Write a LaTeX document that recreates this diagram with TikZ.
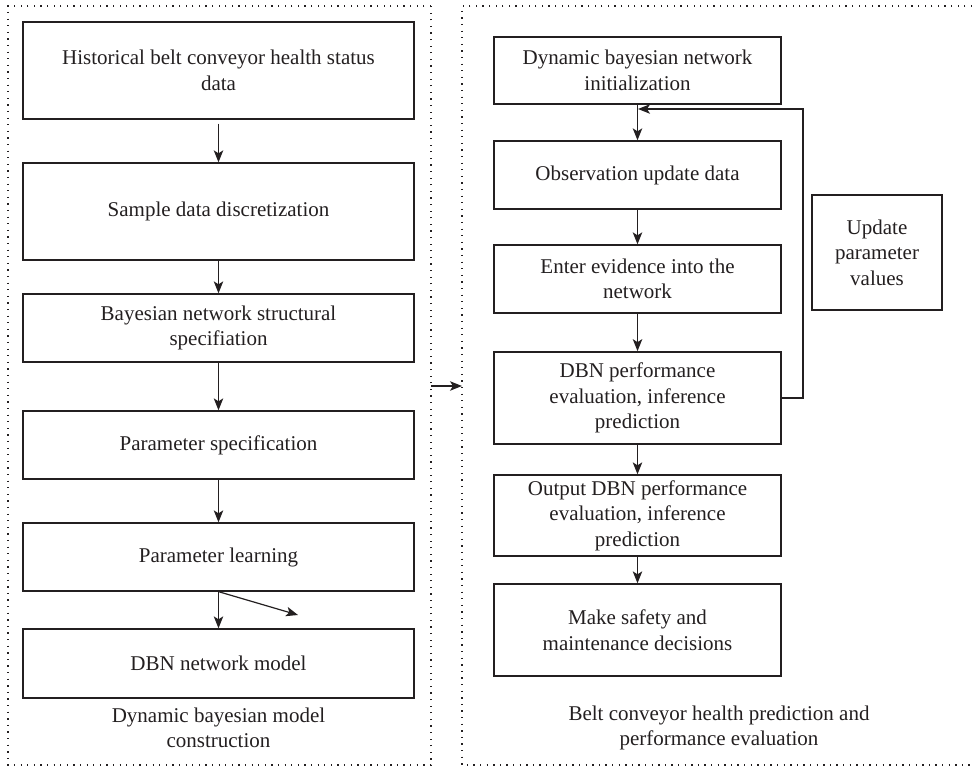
\documentclass[tikz,border=0pt]{standalone}
\usepackage{fontspec}
\setmainfont{Liberation Serif}
\usetikzlibrary{arrows.meta}
\definecolor{ink}{HTML}{231F20}
\tikzset{
  box/.style={draw=ink, line width=1.3pt, inner sep=0pt, align=center, text=ink,
    font=\fontsize{21}{25.5}\selectfont},
  lbl/.style={inner sep=0pt, align=center, text=ink, font=\fontsize{21}{25.5}\selectfont},
  arr/.style={draw=ink, line width=1.2pt, -{Stealth[length=12pt,width=9.5pt,inset=3pt]}},
  dots/.style={draw=ink, line width=1.3pt, dash pattern=on 1.3pt off 5.3pt}
}
\begin{document}
\begin{tikzpicture}[x=1pt,y=-1pt]
\useasboundingbox (0,0) rectangle (972,767);
% frames
\draw[dots] (431,6) -- (8,6) -- (8,765) -- (431,765) -- cycle;
\draw[dots] (972,6) -- (462,6) -- (462,765) -- (972,765);
% left column
\node[box, minimum width=391pt, minimum height=97pt] (l1) at (218.5,70.5) {Historical belt conveyor health status\\data};
\node[box, minimum width=391pt, minimum height=97pt] (l2) at (218.5,211.5) {Sample data discretization};
\node[box, minimum width=391pt, minimum height=68pt] (l3) at (218.5,328) {Bayesian network structural\\specifiation};
\node[box, minimum width=391pt, minimum height=68pt] (l4) at (218.5,445) {Parameter specification};
\node[box, minimum width=391pt, minimum height=68pt] (l5) at (218.5,557) {Parameter learning};
\node[box, minimum width=391pt, minimum height=69pt] (l6) at (218.5,663.5) {DBN network model};
\node[lbl] (lt) at (218.5,728) {Dynamic bayesian model\\construction};
\coordinate (l1b) at ([yshift=-4pt]l1.south);
\draw[arr] (l1b) -- (l2.north);
\draw[arr] (l2) -- (l3);
\draw[arr] (l3) -- (l4);
\draw[arr] (l4) -- (l5);
\draw[arr] (l5) -- (l6);
\coordinate (dg) at (298,615);
\draw[arr] (l5.south) -- (dg);
% between frames
\coordinate (ma) at (431,386);
\coordinate (mb) at (462,386);
\draw[arr] (ma) -- (mb);
% right column
\node[box, minimum width=287pt, minimum height=67pt] (r1) at (637.5,70.5) {Dynamic bayesian network\\initialization};
\node[box, minimum width=287pt, minimum height=68pt] (r2) at (637.5,175) {Observation update data};
\node[box, minimum width=287pt, minimum height=68pt] (r3) at (637.5,279) {Enter evidence into the\\network};
\node[box, line width=1.7pt, minimum width=287pt, minimum height=92pt] (r4) at (637.5,398) {DBN performance\\evaluation, inference\\prediction};
\node[box, minimum width=287pt, minimum height=81pt] (r5) at (637.5,515.5) {Output DBN performance\\evaluation, inference\\prediction};
\node[box, minimum width=287pt, minimum height=92pt] (r6) at (637.5,630) {Make safety and\\maintenance decisions};
\node[box, minimum width=130pt, minimum height=115pt] (up) at (877,252.5) {Update\\parameter\\values};
\node[lbl] (rt) at (719,728) {Belt conveyor health prediction and\\performance evaluation};
\draw[arr] (r1) -- (r2);
\draw[arr] (r2) -- (r3);
\draw[arr] (r3) -- (r4);
\draw[arr] (r4) -- (r5);
\draw[arr] (r5) -- (r6);
\coordinate (fb1) at (803,398);
\coordinate (fb2) at (803,109);
\coordinate (fb3) at (638,109);
\draw[arr] (r4.east) -- (fb1) -- (fb2) -- (fb3);
\end{tikzpicture}
\end{document}
